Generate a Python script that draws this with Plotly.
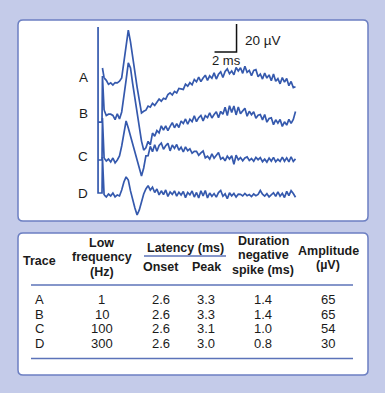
import plotly.graph_objects as go

# ---------------- data ----------------
trace_names = ["A", "B", "C", "D"]
trace_offsets_uv = [0.0, -24.3, -55.7, -80.7]   # vertical stacking of the traces (µV)

sample_start_ms = 1.1
sample_step_ms = 0.2

trace_A_uv = [2.9, 1.2, -1.7, -0.6, -2.2, -0.4, -0.6, 0.6, 2.9, 14.3,
              27.1, 37.1, 28.6, 17.1, 7.1, -3.6, -12.9, -22.1, -20.9, -20.1,
              -17.2, -18.0, -15.2, -16.7, -14.4, -12.2, -13.7, -11.6, -12.3, -9.0,
              -7.8, -9.3, -6.7, -7.8, -4.6, -4.7, -5.3, -1.6, -3.0, -0.5,
              -2.0, 1.8, 0.1, 3.4, 0.3, 2.8, 4.9, 1.1, 4.4, 2.7,
              6.5, 2.1, 5.5, 7.3, 3.2, 7.5, 9.4, 5.9, 7.9, 5.1,
              10.4, 7.9, 10.2, 6.2, 11.3, 6.9, 8.3, 4.5, 8.3, 8.8,
              3.8, 5.7, 2.1, 6.4, 2.8, 5.1, 0.9, 5.7, 0.5, 2.4,
              -1.3, 3.1, -0.1, 2.5, -2.6, 0.4, -4.0, -3.4]

trace_B_uv = [4.3, 0.4, 1.3, 1.3, 0.4, -2.6, 1.6, -2.1, 2.9, 12.9,
              25.7, 37.9, 34.3, 22.9, 12.9, 2.1, -7.9, -17.9, -24.3, -22.7,
              -18.1, -20.6, -12.2, -14.4, -10.4, -12.0, -7.0, -10.1, -7.1, -10.4,
              -7.4, -4.7, -8.4, -5.5, -8.2, -3.6, -5.4, -2.1, -5.9, -2.3,
              -4.0, 0.2, -4.0, -1.2, 0.4, -3.5, 0.3, -1.1, 2.3, -1.4,
              1.1, 3.1, -1.2, 3.3, 1.2, 6.3, 0.4, 7.4, 2.6, 7.1,
              0.8, 6.5, 1.7, 3.7, 5.5, -0.1, 3.4, 0.9, 3.1, -1.6,
              0.6, 1.1, -2.8, 1.1, -4.4, -1.8, -1.3, -6.2, -2.7, -5.1,
              -2.5, -7.4, -4.1, -6.5, -2.4, -5.3, -2.4, 3.2]

trace_C_uv = [1.4, -0.7, 0.7, -1.4, 1.4, -2.1, 0.0, 2.9, 10.0, 20.7,
              27.9, 22.9, 17.1, 12.1, 6.4, 1.4, -5.7, -11.4, -5.7, 2.9,
              3.0, 9.7, 5.9, 10.9, 6.2, 10.4, 12.1, 7.7, 10.2, 11.9,
              6.5, 10.7, 8.3, 11.1, 6.9, 9.1, 5.7, 9.3, 6.6, 8.0,
              4.8, 6.1, 6.1, 3.4, 5.1, 6.4, 1.5, 2.7, 0.7, 4.3,
              1.3, 3.1, 5.3, 0.6, 1.8, -0.6, 2.7, 0.7, 3.0, -3.1,
              3.4, 0.1, 1.7, -0.6, 1.5, 2.2, -0.4, 1.0, -0.9, 1.9,
              0.2, 1.7, -1.2, 0.6, -1.5, 1.4, -0.8, 1.9, -1.3, 0.5,
              -1.0, 2.1, -0.9, 1.5, -1.4, 2.3, -1.1, 0.8]

trace_D_uv = [0.0, -1.4, 0.7, -0.7, 1.4, -1.4, 0.0, -0.7, 3.6, 9.3,
              12.9, 10.7, 2.9, -3.6, -9.3, -14.3, -10.7, -5.0, 0.7, 4.3,
              6.7, 3.5, 5.5, 1.8, 4.3, 0.1, 3.0, 0.2, 3.6, -1.0,
              2.2, 0.4, 2.9, -0.8, 2.0, 0.0, 2.5, -1.9, 1.8, 0.1,
              2.9, -1.5, 1.8, -2.2, 3.0, -0.6, 3.2, -2.1, 1.4, -0.9,
              1.0, -1.5, 1.7, 3.2, -0.9, 0.8, -2.7, 1.5, -0.6, 1.1,
              -1.5, 0.6, 0.5, -0.7, 1.1, -0.5, 0.3, -1.1, 0.7, -0.5,
              0.4, 3.2, 0.6, -0.8, 0.9, -1.4, 0.3, 1.6, -1.0, 2.3,
              -0.9, 1.2, -1.8, 2.6, -0.5, 3.1, 1.0, -1.6]

# stimulus artefact at the start of each trace (time ms, µV relative to trace baseline)
artefact_t = {
    "A": [0.95, 1.1],
    "B": [0.55, 0.91, 0.95, 1.1],
    "C": [0.55, 0.91, 0.95, 1.1],
    "D": [0.55, 0.55, 0.91, 0.95, 1.1],
}
artefact_v = {
    "A": [10.0, 2.9],
    "B": [-4.3, -4.3, 28.6, 4.3],
    "C": [0.0, 0.0, 30.0, 1.4],
    "D": [120.0, 1.4, 1.4, 27.1, 0.0],
}

scalebar_ms = 2
scalebar_uv = 20
scalebar_corner = (13.14, 21.4)   # (ms, µV)

# table
table_trace = ["A", "B", "C", "D"]
table_low_freq_hz = ["1", "10", "100", "300"]
table_onset_ms = ["2.6", "2.6", "2.6", "2.6"]
table_peak_ms = ["3.3", "3.3", "3.1", "3.0"]
table_duration_ms = ["1.4", "1.4", "1.0", "0.8"]
table_amplitude_uv = ["65", "65", "54", "30"]

# ---------------- figure ----------------
W, H = 385, 393
BG = "#c4cbe9"
BORDER = "#6c7fc2"
RULE = "#5c73b9"
TRACE_COLOR = "#3559ad"
TEXT = "#1b1b1b"
FONT = "Liberation Sans, Arial, Helvetica, sans-serif"

series = {"A": trace_A_uv, "B": trace_B_uv, "C": trace_C_uv, "D": trace_D_uv}

fig = go.Figure()
for name, off in zip(trace_names, trace_offsets_uv):
    fig.add_trace(go.Scatter(
        x=artefact_t[name], y=[v + off for v in artefact_v[name]],
        mode="lines", line=dict(color=TRACE_COLOR, width=1.7),
        hoverinfo="skip", showlegend=False))
    fig.add_trace(go.Scatter(
        x0=sample_start_ms, dx=sample_step_ms,
        y=[v + off for v in series[name]],
        mode="lines", line=dict(color=TRACE_COLOR, width=1.7),
        hoverinfo="skip", showlegend=False, name=name))

cx, cy = scalebar_corner
fig.add_trace(go.Scatter(
    x=[cx - scalebar_ms, cx, cx], y=[cy, cy, cy + scalebar_uv],
    mode="lines", line=dict(color="#111111", width=1.5),
    hoverinfo="skip", showlegend=False))


def px(x, y):
    return x / W, 1 - y / H


def rrect(x0, y0, x1, y1, r):
    X0, X1 = x0 / W, x1 / W
    Yt, Yb = 1 - y0 / H, 1 - y1 / H
    rx, ry = r / W, r / H
    return (f"M {X0+rx},{Yt} L {X1-rx},{Yt} Q {X1},{Yt} {X1},{Yt-ry} "
            f"L {X1},{Yb+ry} Q {X1},{Yb} {X1-rx},{Yb} L {X0+rx},{Yb} "
            f"Q {X0},{Yb} {X0},{Yb+ry} L {X0},{Yt-ry} Q {X0},{Yt} {X0+rx},{Yt} Z")


shapes = [
    dict(type="path", xref="paper", yref="paper", path=rrect(18, 20, 368, 221, 5),
         fillcolor="white", line=dict(color=BORDER, width=1.5), layer="below"),
    dict(type="path", xref="paper", yref="paper", path=rrect(18, 233, 368, 375, 5),
         fillcolor="white", line=dict(color=BORDER, width=1.5), layer="below"),
]
for (xa, xb, yy) in [(144, 226, 256), (31, 353, 285), (31, 353, 358.5)]:
    p0 = px(xa, yy)
    p1 = px(xb, yy)
    shapes.append(dict(type="line", xref="paper", yref="paper",
                       x0=p0[0], y0=p0[1], x1=p1[0], y1=p1[1],
                       line=dict(color=RULE, width=1.3)))

annotations = []


def add_text(txt, x, y, size=12, bold=False, xanchor="center"):
    ax, ay = px(x, y)
    annotations.append(dict(
        text=f"<b>{txt}</b>" if bold else txt, x=ax, y=ay, xref="paper", yref="paper",
        xanchor=xanchor, yanchor="middle", showarrow=False,
        font=dict(family=FONT, size=size, color=TEXT)))


# trace labels
for name, yy in zip(trace_names, [77, 113, 157, 193]):
    add_text(name, 83, yy, size=13.5)

# scale bar labels
add_text(f"{scalebar_uv} µV", 243, 41, size=13.5, xanchor="left")
add_text(f"{scalebar_ms} ms", 226, 60, size=13)

# table header
add_text("Trace", 39, 261, bold=True, size=12.5)
for txt, yy in zip(["Low", "frequency", "(Hz)"], [243, 257, 272]):
    add_text(txt, 102, yy, bold=True, size=12.5)
add_text("Latency (ms)", 185, 248, bold=True, size=12.5)
add_text("Onset", 161, 267, bold=True, size=12.5)
add_text("Peak", 207, 267, bold=True, size=12.5)
for txt, yy in zip(["Duration", "negative", "spike (ms)"], [241, 255, 270]):
    add_text(txt, 263, yy, bold=True, size=12.5)
for txt, yy in zip(["Amplitude", "(µV)"], [251, 265]):
    add_text(txt, 328, yy, bold=True, size=12.5)

# table rows
row_y = [299.5, 314, 328.5, 343]
cols = [(table_trace, 39), (table_low_freq_hz, 102), (table_onset_ms, 161),
        (table_peak_ms, 206), (table_duration_ms, 263), (table_amplitude_uv, 328)]
for values, xx in cols:
    for v, yy in zip(values, row_y):
        add_text(v, xx, yy, size=13)

fig.update_layout(
    width=W, height=H,
    margin=dict(l=0, r=0, t=0, b=0, pad=0),
    paper_bgcolor=BG, plot_bgcolor="rgba(0,0,0,0)",
    xaxis=dict(range=[-92 / 11, (W - 92) / 11], visible=False, fixedrange=True),
    yaxis=dict(range=[(82 - H) / 1.4, 82 / 1.4], visible=False, fixedrange=True),
    shapes=shapes, annotations=annotations,
    showlegend=False,
)

fig.write_html(
    "out.html",
    config={"displayModeBar": False},
    post_script="document.body.style.margin='0';document.body.style.padding='0';"
                "document.documentElement.style.background='%s';" % BG,
)
